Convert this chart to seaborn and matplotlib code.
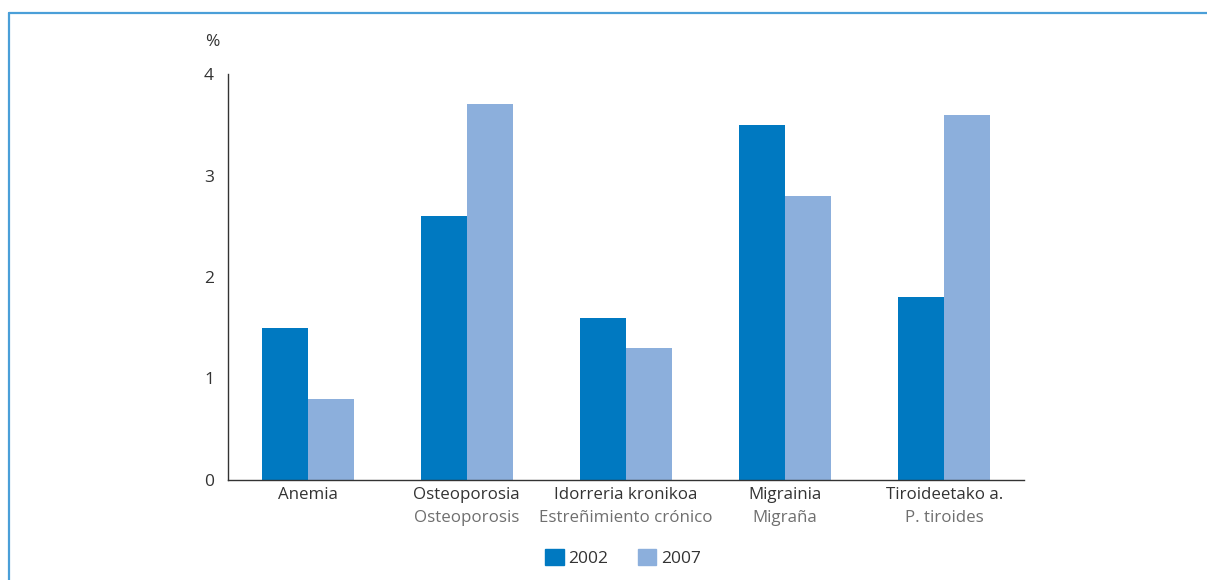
import matplotlib
matplotlib.use("Agg")
import matplotlib.pyplot as plt
from matplotlib.lines import Line2D
import seaborn as sns
import pandas as pd

# Data
categories_eu = ["Anemia", "Osteoporosia", "Idorreria kronikoa", "Migrainia", "Tiroideetako a."]
categories_es = ["", "Osteoporosis", "Estreñimiento crónico", "Migraña", "P. tiroides"]
years = ["2002", "2007"]
values_2002 = [1.5, 2.6, 1.6, 3.5, 1.8]
values_2007 = [0.8, 3.7, 1.3, 2.8, 3.6]
y_ticks = [0, 1, 2, 3, 4]

colors = {"2002": "#0079c1", "2007": "#8cafdc"}

df = pd.DataFrame({
    "cat": categories_eu * 2,
    "year": [years[0]] * 5 + [years[1]] * 5,
    "value": values_2002 + values_2007,
})

sns.set_theme(style="white")
plt.rcParams["font.family"] = ["Open Sans", "DejaVu Sans"]

W, H = 1207, 580
fig = plt.figure(figsize=(W / 100, H / 100), dpi=100)
ax = fig.add_axes([228 / W, 1 - 480 / H, (1024 - 228) / W, (480 - 74) / H])

sns.barplot(data=df, x="cat", y="value", hue="year", order=categories_eu,
            hue_order=years, palette=colors, width=0.577, saturation=1,
            linewidth=0, ax=ax, legend=False)

ax.set_xlim(-0.5, 4.5)
ax.set_ylim(0, 4)
ax.set_yticks(y_ticks)
ax.set_yticklabels([str(t) for t in y_ticks], fontsize=12.5, color="#333333")
ax.set_xlabel("")
ax.set_ylabel("")

# category labels between boundary ticks
ax.set_xticks(range(5))
ax.set_xticklabels(categories_eu, fontsize=12.2, color="#333333")
ax.tick_params(axis="x", which="major", length=0, pad=5)
ax.set_xticks([i - 0.5 for i in range(6)], minor=True)
ax.tick_params(axis="x", which="minor", length=4, width=1, color="#333333", direction="out")
ax.tick_params(axis="y", which="major", length=4, width=1, color="#333333",
               direction="out", pad=6)

for i, sub in enumerate(categories_es):
    if sub:
        ax.annotate(sub, xy=(i, 0), xycoords=("data", "axes fraction"),
                    xytext=(0, -27.5), textcoords="offset points",
                    ha="center", va="center", fontsize=12.2, color="#6f6f6f")

for side in ["top", "right"]:
    ax.spines[side].set_visible(False)
for side in ["left", "bottom"]:
    ax.spines[side].set_color("#333333")
    ax.spines[side].set_linewidth(1.0)

fig.text(212 / W, 1 - 42 / H, "%", ha="center", va="center", fontsize=12.5, color="#333333")

# legend
handles = [plt.Rectangle((0, 0), 1, 1, color=colors[y]) for y in years]
fig.legend(handles, years, loc="center", bbox_to_anchor=(623 / W, 1 - 558 / H),
           ncol=2, frameon=False, fontsize=12.5, handlelength=1.05, handleheight=1.05,
           handletextpad=0.25, columnspacing=1.75, labelcolor="#333333")

# outer frame
fig.add_artist(Line2D([9 / W, 1], [1 - 13 / H, 1 - 13 / H], transform=fig.transFigure,
                      color="#4a9fd8", linewidth=1.6))
fig.add_artist(Line2D([9 / W, 9 / W], [0, 1 - 13 / H], transform=fig.transFigure,
                      color="#4a9fd8", linewidth=1.6))

fig.savefig("out.png", dpi=100, facecolor="white")
